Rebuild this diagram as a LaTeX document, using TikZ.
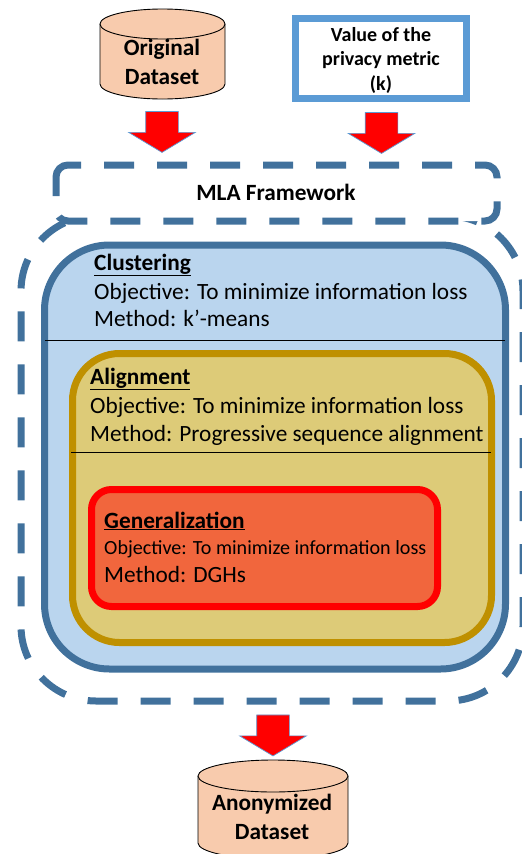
\documentclass[tikz,border=0pt]{standalone}
\usepackage{fontspec}
\setmainfont{Carlito}
\usetikzlibrary{shapes.arrows}
\definecolor{framecol}{HTML}{41719C}
\definecolor{bluefill}{HTML}{BAD5EE}
\definecolor{goldcol}{HTML}{BF9000}
\definecolor{goldfill}{HTML}{DDCB78}
\definecolor{genfill}{HTML}{F1663D}
\definecolor{dbfill}{HTML}{F8CBAD}
\definecolor{keycol}{HTML}{5B9BD5}
\tikzset{
  dbshape/.style={draw=black,fill=dbfill,line width=0.9pt},
  flowarrow/.style={single arrow,rotate=-90,draw=keycol,line width=0.7pt,fill=red,inner xsep=0pt,inner ysep=16pt,
    minimum height=41pt,single arrow head extend=17pt,single arrow tip angle=118},
  dashframe/.style={draw=framecol,line width=7pt,dash pattern=on 30pt off 23pt},
  levelbox/.style={line width=7pt,inner sep=0pt},
  txt/.style={anchor=base west,inner sep=0pt,font=\fontsize{23.3}{28}\selectfont},
  boldtxt/.style={anchor=base,inner sep=0pt,align=center,font=\fontsize{23.3}{29}\selectfont\bfseries},
}
\begin{document}
\begin{tikzpicture}[x=1pt,y=-1pt]
\useasboundingbox (0,0) rectangle (522,854);
\clip (0,0) rectangle (522,854);
% inputs
\draw [dbshape] (100,24) -- (100,84) arc (180:360:62.5pt and 15pt) -- (225,24) arc (0:180:62.5pt and 15pt) -- cycle;
\draw [dbshape] (100,24) arc (180:360:62.5pt and 15pt);
\node [boldtxt] (originaltxt) at (162,84) {Original\\Dataset};
\node [draw=keycol,line width=7pt,inner sep=0pt,minimum width=171pt,minimum height=80.5pt] (metric) at (381,58.25) {};
\node [boldtxt,font=\fontsize{20}{24.5}\selectfont\bfseries] (metrictxt) at (381,90) {Value of the\\privacy metric\\(k)};
\node [flowarrow] (arrowa) at (162,127) {};
\node [flowarrow] (arrowb) at (381.5,128) {};
% framework
\draw [dashframe,rounded corners=75pt] (448,216) -- (523,216) -- (523,701) -- (21,701) -- (21,216) -- (96,216);
\node [fill=white,rounded corners=12pt,inner sep=0pt,minimum width=441pt,minimum height=56pt] (mla) at (276.5,193) {};
\draw [dashframe,dash phase=30pt,rounded corners=12pt] (81,165) -- (497,165) -- (497,221) -- (56,221) -- (56,196);
\draw [draw=framecol,line width=7pt,rounded corners=12pt] (56,196) -- (56,165) -- (81,165);
\node [boldtxt] (mlatxt) at (276,200) {MLA Framework};
% clustering
\node [levelbox,draw=framecol,fill=bluefill,rounded corners=65pt,minimum width=461pt,minimum height=424pt] (clustering) at (275,457) {};
\node [txt] (clusteringhead) at (94,270) {\textbf{\underline{Clustering}}};
\node [txt] (clusteringobj) at (94,299) {Objective: To minimize information loss};
\node [txt] (clusteringmet) at (94,326.5) {Method: k’-means};
\draw [black] ([xshift=4pt]clustering.west |- 0,340) -- ([xshift=-4pt]clustering.east |- 0,340);
% alignment
\node [levelbox,draw=goldcol,fill=goldfill,rounded corners=47pt,minimum width=419pt,minimum height=289pt] (alignment) at (282,498) {};
\node [txt] (alignmenthead) at (90,384) {\textbf{\underline{Alignment}}};
\node [txt] (alignmentobj) at (90,413) {Objective: To minimize information loss};
\node [txt] (alignmentmet) at (90,441) {Method: Progressive sequence alignment};
\draw [black] ([xshift=2pt]alignment.west |- 0,452) -- ([xshift=-4pt]alignment.east |- 0,452);
% generalization
\node [levelbox,draw=red,fill=genfill,rounded corners=20pt,minimum width=346pt,minimum height=117pt] (generalization) at (264.5,548) {};
\node [txt] (generalizationhead) at (104,528) {\textbf{\underline{Generalization}}};
\node [txt,font=\fontsize{20.1}{24}\selectfont] (generalizationobj) at (104,554) {Objective: To minimize information loss};
\node [txt] (generalizationmet) at (104,582) {Method: DGHs};
% output
\node [flowarrow] (arrowc) at (273,730.5) {};
\draw [dbshape] (198,776) -- (198,843) arc (180:360:75pt and 16pt) -- (348,776) arc (0:180:75pt and 16pt) -- cycle;
\draw [dbshape] (198,776) arc (180:360:75pt and 16pt);
\node [boldtxt] (anonymizedtxt) at (272,839) {Anonymized\\Dataset};
\end{tikzpicture}
\end{document}
